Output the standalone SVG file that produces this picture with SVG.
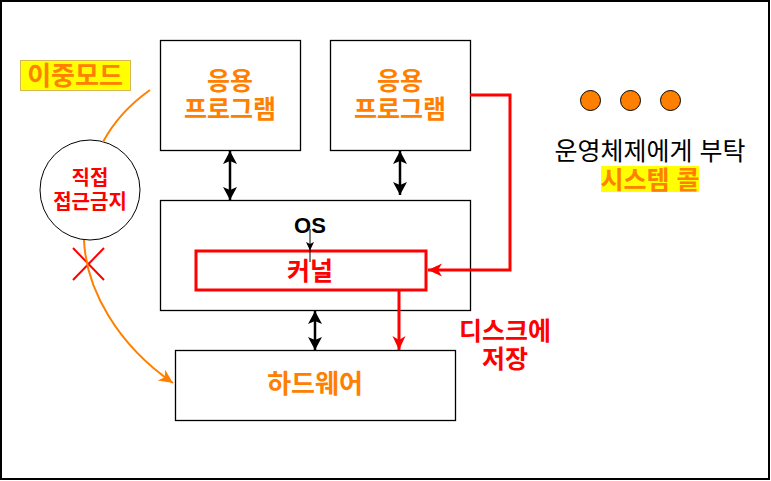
<svg xmlns="http://www.w3.org/2000/svg" width="771" height="481" viewBox="0 0 771 481">
<style>
.box{fill:#fff;stroke:#000;stroke-width:1.3}
.ko{font-family:"Liberation Sans","Noto Sans CJK KR",sans-serif;font-weight:bold;text-anchor:middle}
.or{fill:#FF8000}
.rd{fill:#FF0000}
.conn{fill:none;stroke:#000;stroke-width:2.5}
</style>
<defs>
<marker id="ab" markerUnits="userSpaceOnUse" viewBox="-14 -8 16 16" refX="0" refY="0" markerWidth="16" markerHeight="16" orient="auto-start-reverse">
<path d="M0,0 L-13,-7 L-10,0 L-13,7 Z" fill="#000"/>
</marker>
<marker id="ar" markerUnits="userSpaceOnUse" viewBox="-15 -8 17 16" refX="0" refY="0" markerWidth="17" markerHeight="16" orient="auto">
<path d="M0,0 L-14,-6.5 L-10,0 L-14,6.5 Z" fill="#FF0000"/>
</marker>
<marker id="ao" markerUnits="userSpaceOnUse" viewBox="-15 -8 17 16" refX="0" refY="0" markerWidth="17" markerHeight="16" orient="auto">
<path d="M0,0 L-14,-6.5 L-10,0 L-14,6.5 Z" fill="#FF8000"/>
</marker>
</defs>
<rect x="1" y="1" width="768" height="478" fill="#fff" stroke="#000" stroke-width="2"/>

<g id="app1">
<rect x="160.5" y="40.5" width="140" height="110" class="box"/>
<text font-size="25" class="ko or"><tspan x="230" y="90">응용</tspan><tspan x="230" y="118">프로그램</tspan></text>
</g>
<g id="app2">
<rect x="330.5" y="40.5" width="140" height="110" class="box"/>
<text font-size="25" class="ko or"><tspan x="400" y="90">응용</tspan><tspan x="400" y="118">프로그램</tspan></text>
</g>
<g id="os">
<rect x="160.5" y="200.5" width="310" height="110" class="box"/>
<text x="310" y="233" font-size="22" font-family="'Liberation Sans',Arial,sans-serif" font-weight="bold" text-anchor="middle" fill="#000">OS</text>
</g>
<g id="kernel">
<rect x="196" y="251" width="230" height="39" fill="#fff" stroke="#FF0000" stroke-width="3"/>
<text x="310" y="280" font-size="25" class="ko rd">커널</text>
<line x1="310" y1="229" x2="310" y2="262" stroke="#000" stroke-width="1"/>
<path d="M310,250.5 L306,242 L310,244 L314,242 Z" fill="#000"/>
</g>
<g id="hardware">
<rect x="175.5" y="350.5" width="280" height="70" class="box"/>
<text x="315" y="393" font-size="26" class="ko or">하드웨어</text>
</g>
<g id="dualmode">
<rect x="20.5" y="60.5" width="110" height="30" fill="#FFFF00" stroke="#D6B656" stroke-width="1"/>
<text x="75" y="85" font-size="26" class="ko or">이중모드</text>
</g>
<g id="noaccess">
<circle cx="90" cy="190" r="50" fill="#fff" stroke="#000" stroke-width="1"/>
<text font-size="20" class="ko rd"><tspan x="90" y="185">직접</tspan><tspan x="90" y="209">접근금지</tspan></text>
</g>
<g id="xmark">
<path d="M73,248 L104,280 M104,248 L73,280" stroke="#FF0000" stroke-width="2" fill="none"/>
</g>
<g id="disk">
<text font-size="25" class="ko rd"><tspan x="505" y="340">디스크에</tspan><tspan x="505" y="368">저장</tspan></text>
</g>
<g id="dots">
<circle cx="590.5" cy="100.5" r="10" fill="#FF8000" stroke="#000" stroke-width="1"/>
<circle cx="630.5" cy="100.5" r="10" fill="#FF8000" stroke="#000" stroke-width="1"/>
<circle cx="670.5" cy="100.5" r="10" fill="#FF8000" stroke="#000" stroke-width="1"/>
</g>
<g id="ask">
<text x="650" y="160" font-size="25" font-family="'Liberation Sans','Noto Sans CJK KR',sans-serif" text-anchor="middle" fill="#000">운영체제에게 부탁</text>
</g>
<g id="syscall">
<rect x="601" y="166" width="98" height="26" fill="#FFFF00"/>
<text x="650" y="189" font-size="25" class="ko or">시스템 콜</text>
</g>

<g id="connectors">
<path d="M150,90 Q119,112 103,142" fill="none" stroke="#FF8000" stroke-width="2"/>
<path d="M84,240 C86,290 118,345 173,383" fill="none" stroke="#FF8000" stroke-width="2" marker-end="url(#ao)"/>
<line x1="230" y1="151" x2="230" y2="200" class="conn" marker-start="url(#ab)" marker-end="url(#ab)"/>
<line x1="400" y1="151" x2="400" y2="195" class="conn" marker-start="url(#ab)" marker-end="url(#ab)"/>
<line x1="315" y1="311" x2="315" y2="350" class="conn" marker-start="url(#ab)" marker-end="url(#ab)"/>
<polyline points="470,95 510,95 510,270 428,270" fill="none" stroke="#FF0000" stroke-width="3" marker-end="url(#ar)"/>
<line x1="399" y1="291" x2="399" y2="350" stroke="#FF0000" stroke-width="3" marker-end="url(#ar)"/>
</g>
</svg>
